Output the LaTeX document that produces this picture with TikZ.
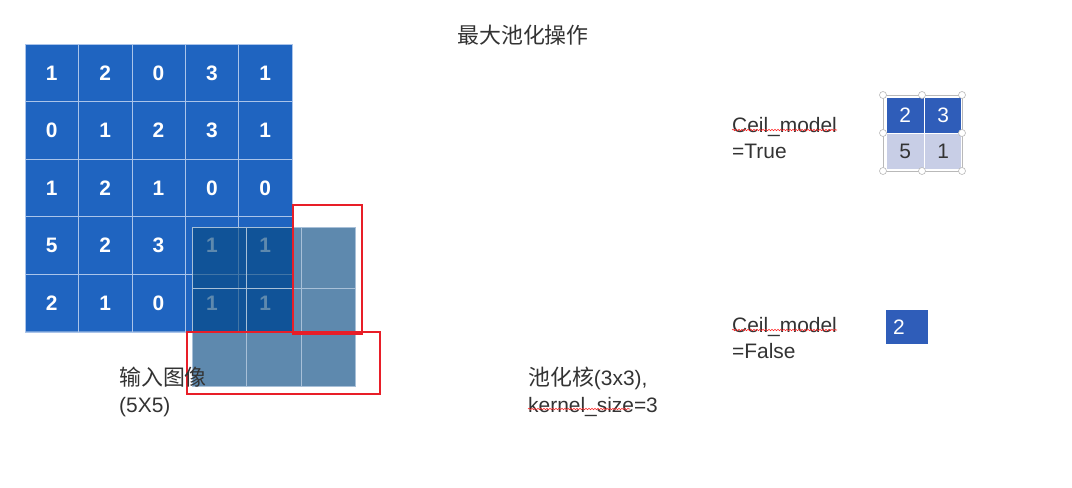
\documentclass[tikz,border=0pt]{standalone}
\usepackage{fontspec}
\setmainfont{Liberation Sans}
\newfontfamily\cjk{Noto Sans CJK SC}
\usetikzlibrary{shapes.multipart,positioning,decorations.pathmorphing}
\definecolor{gridblue}{RGB}{31,100,192}
\definecolor{gridline}{RGB}{170,196,234}
\definecolor{kernfill}{RGB}{9,75,131}
\definecolor{kernline}{RGB}{168,192,216}
\definecolor{poolred}{RGB}{232,30,40}
\definecolor{outblue}{RGB}{47,93,185}
\definecolor{outlight}{RGB}{200,206,230}
\definecolor{txtgray}{RGB}{51,51,51}
\tikzset{
 cellrow/.style = {rectangle split, rectangle split horizontal,
           rectangle split parts=5, draw=gridline, fill=gridblue,
           inner sep=0pt, text width=53bp, align=center,
           minimum height=57.5bp, text=white, anchor=north west,
           font=\fontsize{21}{25}\selectfont\bfseries},
 kernrow/.style = {rectangle split, rectangle split horizontal,
           rectangle split parts=3, draw=kernline, fill=kernfill,
           fill opacity=0.65, inner sep=0pt, text width=54bp,
           anchor=north west},
 outrow/.style = {rectangle split, rectangle split horizontal,
           rectangle split parts=2, draw=white, line width=1.2bp,
           inner sep=0pt, text width=37bp, align=center,
           minimum height=36bp, anchor=north west,
           font=\fontsize{21}{25}\selectfont},
 label/.style = {text=txtgray, inner sep=0pt, anchor=base west,
           font=\fontsize{21}{25}\selectfont},
 cjklabel/.style = {label, font=\cjk\fontsize{22}{26}\selectfont},
 squiggle/.style = {draw=red!85, line width=0.6bp, decorate,
           decoration={snake, amplitude=0.7bp, segment length=3bp}},
 handle/.style = {draw=gray!55, fill=white, line width=0.6bp}
}

\begin{document}
\begin{tikzpicture}[x=1bp, y=-1bp]
  \useasboundingbox (0,0) rectangle (1072,488);
  \fill[white] (0,0) rectangle (1072,488);

  % Title
  \node[cjklabel, anchor=center] (title) at (523,35) {最大池化操作};

  % Input image
  \node[cellrow] (in1) at (25,44)
  {1
    \nodepart{two}2
    \nodepart{three}0
    \nodepart{four}3
    \nodepart{five}1 };
  \node[cellrow] (in2) at (25,101.5)
  {0
    \nodepart{two}1
    \nodepart{three}2
    \nodepart{four}3
    \nodepart{five}1 };
  \node[cellrow] (in3) at (25,159)
  {1
    \nodepart{two}2
    \nodepart{three}1
    \nodepart{four}0
    \nodepart{five}0 };
  \node[cellrow] (in4) at (25,216.5)
  {5
    \nodepart{two}2
    \nodepart{three}3
    \nodepart{four}1
    \nodepart{five}1 };
  \node[cellrow] (in5) at (25,274)
  {2
    \nodepart{two}1
    \nodepart{three}0
    \nodepart{four}1
    \nodepart{five}1 };

  % Kernel
  \node[kernrow, minimum height=61bp] (k1) at (192,227)
  {\nodepart{two}\nodepart{three}};
  \node[kernrow, minimum height=43bp] (k2) at (192,288)
  {\nodepart{two}\nodepart{three}};
  \node[kernrow, minimum height=55bp] (k3) at (192,331)
  {\nodepart{two}\nodepart{three}};

  % Red frames
  \draw[poolred, line width=2bp] (293,205) rectangle (362,334);
  \draw[poolred, line width=2bp] (187,332) rectangle (380,394);

  % Labels
  \node[cjklabel] (inlab) at (119,386) {输入图像};
  \node[label] (insize) at (119,412) {(5X5)};
  \node[label] (klab) at (528,386) {{\cjk\fontsize{22}{26}\selectfont 池化核}(3x3),};
  \node[label] (ksize) at (528,412) {kernel\_size=3};
  \draw[squiggle] ([yshift=3bp]ksize.base west) -- ++(102,0);

  % Ceil true
  \node[label] (ceilT) at (732,133) {Ceil\_model};
  \node[label] (trueT) at (732,159) {=True};
  \draw[squiggle] ([yshift=3bp]ceilT.base west)
    -- ([yshift=3bp]ceilT.base east);

  \node[outrow, fill=outblue, text=white] (outtop) at (886,97)
  {2
    \nodepart{two}3 };
  \node[outrow, fill=outlight, text=txtgray] (outbot) at (886,133)
  {5
    \nodepart{two}1 };
  \draw[gray!55, line width=0.6bp] (883,95) rectangle (962,171);
  \foreach \hx/\hy in {883/95, 922/95, 962/95, 883/133, 962/133,
                       883/171, 922/171, 962/171}
    \draw[handle] (\hx,\hy) circle (3.5);

  % Ceil false
  \node[label] (ceilF) at (732,333) {Ceil\_model};
  \node[label] (falseF) at (732,359) {=False};
  \draw[squiggle] ([yshift=3bp]ceilF.base west)
    -- ([yshift=3bp]ceilF.base east);

  \node[fill=outblue, text=white, inner xsep=7bp, inner ysep=0pt,
        text width=28bp, align=left, minimum height=34bp,
        anchor=north west, font=\fontsize{21}{25}\selectfont] (outone)
    at (886,310) {2};
\end{tikzpicture}
\end{document}
